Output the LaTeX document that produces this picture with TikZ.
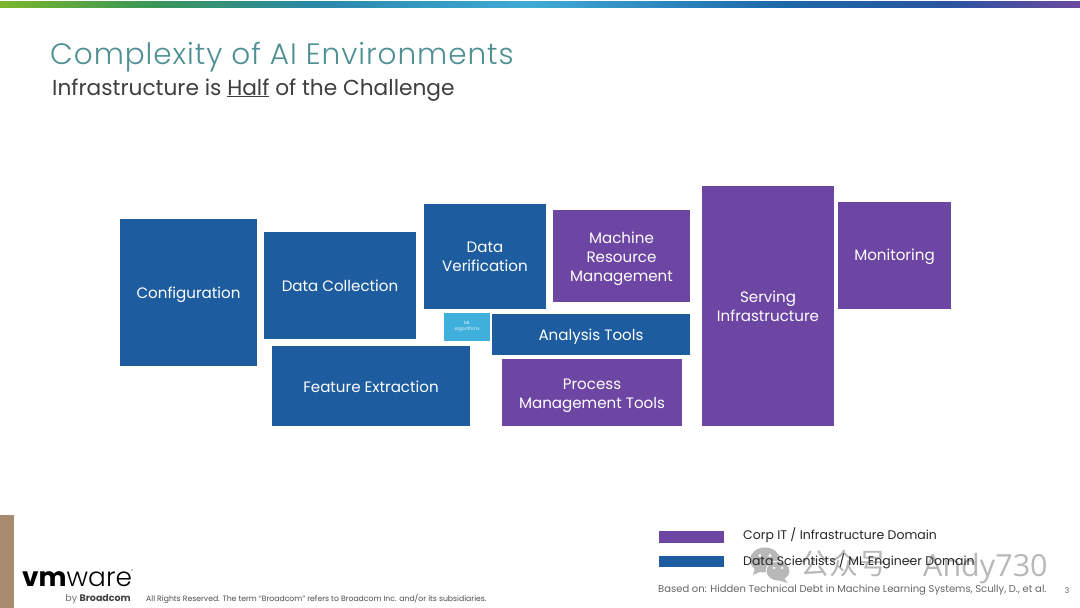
\documentclass[tikz,border=0pt]{standalone}
\usepackage{fontspec}
\setmainfont{Poppins}
\newfontfamily\lightfont[UprightFont={* Light}]{Poppins}
\newfontfamily\cjkfont{Noto Sans CJK SC}
\newfontfamily\markfont{Open Sans}
\definecolor{blockblue}{HTML}{1D5C9E}
\definecolor{blockpurple}{HTML}{6D45A3}
\definecolor{lightblock}{HTML}{3FB0DC}
\definecolor{titleteal}{HTML}{4F9093}
\definecolor{subgrey}{HTML}{3F3F3F}
\definecolor{sandstrip}{HTML}{A68B6E}
\definecolor{markgrey}{HTML}{B8B8B8}
\definecolor{bandA}{RGB}{122,182,44}
\definecolor{bandB}{RGB}{58,150,86}
\definecolor{bandC}{RGB}{42,136,170}
\definecolor{bandD}{RGB}{64,170,214}
\definecolor{bandE}{RGB}{28,104,168}
\definecolor{bandF}{RGB}{42,84,160}
\definecolor{bandG}{RGB}{108,74,160}
\tikzset{
  x=1pt, y=-1pt,
  plate/.style={inner sep=0pt, outer sep=0pt, text=white, align=center, font=\fontsize{15.1}{19}\selectfont},
  legendtext/.style={anchor=west, inner sep=0pt, text=black!85, font=\fontsize{12.5}{15}\selectfont}
}
% Filled block given by its corners, with a centred caption nudged down by the last argument
\newcommand{\plate}[8]{%
  \fill[#6] (#2,#3) rectangle (#4,#5);
  \node[plate] (#1) at ({(#2+#4)/2},{(#3+#5)/2+#8}) {#7};
}
\begin{document}
\begin{tikzpicture}
\useasboundingbox (0,0) rectangle (1080,608);
\fill[white] (0,0) rectangle (1080,608);

% Gradient band along the top edge
\shade[left color=bandA, right color=bandB] (0,1) rectangle (150.5,7);
\shade[left color=bandB, right color=bandC] (150,1) rectangle (320.5,7);
\shade[left color=bandC, right color=bandD] (320,1) rectangle (530.5,7);
\shade[left color=bandD, right color=bandE] (530,1) rectangle (780.5,7);
\shade[left color=bandE, right color=bandF] (780,1) rectangle (950.5,7);
\shade[left color=bandF, right color=bandG] (950,1) rectangle (1080,7);

% Headings
\node[anchor=base west, inner sep=0pt, text=titleteal, font=\lightfont\fontsize{29.5}{34}\selectfont\addfontfeature{LetterSpace=3.2}] (title) at (50,64) {Complexity of AI Environments};
\node[anchor=base west, inner sep=0pt, text=subgrey, font=\fontsize{21.7}{26}\selectfont] (subtitle) at (52,95) {Infrastructure is \underline{Half} of the Challenge};

% Overlay mark, under the legend captions: two speech bubbles, then the account name
\fill[markgrey] (765,560) ellipse (15 and 12.5);
\fill[markgrey] (755,568) -- (753,575) -- (762,571) -- cycle;
\fill[white] (760,555.5) circle (1.6) (770,555.5) circle (1.6);
\fill[markgrey, draw=white, line width=0.8pt] (778,571) ellipse (12 and 10);
\fill[markgrey] (784,578) -- (788,583) -- (778,580) -- cycle;
\fill[white] (774,568) circle (1.3) (782,568) circle (1.3);
\node[anchor=base west, inner sep=0pt, text=markgrey, font=\cjkfont\fontsize{29}{34}\selectfont] (markcn) at (800,574) {公众号};
\fill[markgrey] (910,561) circle (1.5);
\node[anchor=base west, inner sep=0pt, text=markgrey, font=\markfont\fontsize{30.5}{36}\selectfont] (markname) at (923,576) {Andy730};

% Blocks
\plate{config}{120}{219}{257}{366}{blockblue}{Configuration}{2.5}
\plate{collect}{264}{232}{416}{339}{blockblue}{Data Collection}{0}
\plate{verify}{424}{204}{546}{309}{blockblue}{Data\\Verification}{0.5}
\plate{resource}{553}{210}{690}{302}{blockpurple}{Machine\\Resource\\Management}{3}
\plate{serving}{702}{186}{834}{426}{blockpurple}{Serving\\Infrastructure}{0}
\plate{monitor}{838}{202}{951}{309}{blockpurple}{Monitoring}{1.5}
\plate{analysis}{492}{314}{690}{355}{blockblue}{Analysis Tools}{2.5}
\plate{feature}{272}{346}{470}{426}{blockblue}{Feature Extraction}{1}
\plate{process}{502}{359}{682}{426}{blockpurple}{Process\\Management Tools}{3}
\fill[lightblock] (444,313) rectangle (490,341);
\node[inner sep=0pt, text=white!85!lightblock, align=center, font=\fontsize{4.6}{6}\selectfont] (mlcode) at (467,327) {ML\\Algorithms};

% Footer strip and logo
\fill[sandstrip] (0,515) rectangle (14,608);
\node[anchor=base west, inner sep=0pt, text=black, font=\lightfont\fontsize{26.4}{30}\selectfont] (logo) at (22,586) {{\setmainfont{Poppins}\bfseries vm}ware};
\node[anchor=west, inner sep=0pt, text=black!70, font=\fontsize{4}{5}\selectfont] (regmark) at (131,571) {®};
\node[anchor=base east, inner sep=0pt, font=\fontsize{9.5}{10}\selectfont] (byline) at (131,601) {\textcolor{black!55}{by} \textbf{\textcolor{black!75}{Broadcom}}};
\node[anchor=base west, inner sep=0pt, text=black!70, font=\fontsize{7.7}{9}\selectfont] (rights) at (146,601) {All Rights Reserved. The term “Broadcom” refers to Broadcom Inc. and/or its subsidiaries.};

% Legend
\fill[blockpurple] (659,531) rectangle (724,543);
\fill[blockblue] (659,556) rectangle (724,567);
\node[legendtext] (itlabel) at (743,535) {Corp IT / Infrastructure Domain};
\node[legendtext] (dslabel) at (743,561) {Data Scientists / ML Engineer Domain};
\node[anchor=base west, inner sep=0pt, text=black!60, font=\fontsize{10}{12}\selectfont] (source) at (658,592) {Based on: Hidden Technical Debt in Machine Learning Systems, Scully, D., et al.};
\node[anchor=base, inner sep=0pt, text=black!60, font=\fontsize{8}{10}\selectfont] (page) at (1067,593) {3};
\end{tikzpicture}
\end{document}
